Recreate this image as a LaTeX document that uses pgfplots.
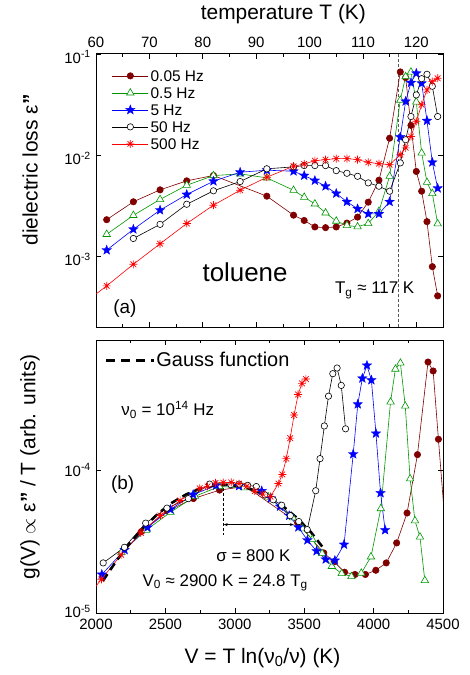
\documentclass[border=0pt]{standalone}
\usepackage{fontspec}
\setmainfont{Liberation Sans}
\usepackage{pgfplots}
\pgfplotsset{compat=1.18}
\usepackage{pgfplotstable}
\usetikzlibrary{arrows.meta}

\definecolor{c005}{RGB}{128,0,0}
\definecolor{c05}{RGB}{0,150,0}
\definecolor{c5}{RGB}{0,0,255}
\definecolor{c50}{RGB}{0,0,0}
\definecolor{c500}{RGB}{255,0,0}

% eight-armed asterisk
\pgfdeclareplotmark{ast8}{%
  \pgfpathmoveto{\pgfqpoint{0pt}{\pgfplotmarksize}}\pgfpathlineto{\pgfqpoint{0pt}{-\pgfplotmarksize}}%
  \pgfpathmoveto{\pgfqpoint{\pgfplotmarksize}{0pt}}\pgfpathlineto{\pgfqpoint{-\pgfplotmarksize}{0pt}}%
  \pgfpathmoveto{\pgfqpoint{.707\pgfplotmarksize}{.707\pgfplotmarksize}}\pgfpathlineto{\pgfqpoint{-.707\pgfplotmarksize}{-.707\pgfplotmarksize}}%
  \pgfpathmoveto{\pgfqpoint{.707\pgfplotmarksize}{-.707\pgfplotmarksize}}\pgfpathlineto{\pgfqpoint{-.707\pgfplotmarksize}{.707\pgfplotmarksize}}%
  \pgfusepathqstroke}

% filled five-pointed star
\pgfdeclareplotmark{pstar}{%
  \pgfpathmoveto{\pgfqpointpolar{90}{\pgfplotmarksize}}%
  \pgfpathlineto{\pgfqpointpolar{126}{.42\pgfplotmarksize}}%
  \pgfpathlineto{\pgfqpointpolar{162}{\pgfplotmarksize}}%
  \pgfpathlineto{\pgfqpointpolar{198}{.42\pgfplotmarksize}}%
  \pgfpathlineto{\pgfqpointpolar{234}{\pgfplotmarksize}}%
  \pgfpathlineto{\pgfqpointpolar{270}{.42\pgfplotmarksize}}%
  \pgfpathlineto{\pgfqpointpolar{306}{\pgfplotmarksize}}%
  \pgfpathlineto{\pgfqpointpolar{342}{.42\pgfplotmarksize}}%
  \pgfpathlineto{\pgfqpointpolar{18}{\pgfplotmarksize}}%
  \pgfpathlineto{\pgfqpointpolar{54}{.42\pgfplotmarksize}}%
  \pgfpathclose
  \pgfusepathqfillstroke}

% columns: T (K), eps'' , V = T ln(nu0/nu) (K), g(V)
\pgfplotstableread{
T eps V g
62 2.30e-3 2327 3.71e-5
67 3.46e-3 2515 5.16e-5
72 4.54e-3 2702 6.31e-5
77 5.57e-3 2890 7.23e-5
82 6.30e-3 3078 7.68e-5
92 3.93e-3 3453 4.27e-5
97 2.55e-3 3641 2.63e-5
99 2.26e-3 3716 2.28e-5
101 1.95e-3 3791 1.93e-5
103 1.92e-3 3866 1.86e-5
105 1.95e-3 3941 1.86e-5
107 2.13e-3 4016 1.99e-5
109 2.44e-3 4091 2.24e-5
111 3.43e-3 4166 3.09e-5
113 5.65e-3 4241 5.00e-5
115 1.47e-2 4316 1.28e-4
117 6.65e-2 4392 5.68e-4
118 5.85e-2 4429 4.92e-4
119 1.97e-2 4467 1.64e-4
120 6.90e-3 4504 5.75e-5
121 4.40e-3 4542 3.64e-5
122 2.20e-3 4579 1.80e-5
123 7.90e-4 4617 6.42e-6
124 4.06e-4 4654 3.27e-6
}\tA

\pgfplotstableread{
T eps V g
62 1.65e-3 2184 2.66e-5
67 2.54e-3 2361 3.79e-5
72 3.65e-3 2537 5.07e-5
77 5.04e-3 2713 6.55e-5
82 6.28e-3 2889 7.66e-5
87 6.53e-3 3065 7.51e-5
92 5.96e-3 3241 6.48e-5
97 4.50e-3 3418 4.64e-5
99 3.84e-3 3488 3.88e-5
101 3.30e-3 3558 3.27e-5
103 2.69e-3 3629 2.61e-5
105 2.23e-3 3699 2.12e-5
107 2.02e-3 3770 1.89e-5
109 1.96e-3 3840 1.80e-5
111 2.11e-3 3911 1.90e-5
113 2.79e-3 3981 2.47e-5
115 6.18e-3 4052 5.37e-5
117 3.50e-2 4122 2.99e-4
118 5.98e-2 4157 5.07e-4
119 6.65e-2 4193 5.59e-4
120 3.36e-2 4228 2.80e-4
121 1.05e-2 4263 8.68e-5
122 5.39e-3 4298 4.42e-5
123 4.18e-3 4334 3.40e-5
124 2.10e-3 4369 1.69e-5
}\tB

\pgfplotstableread{
T eps V g
62 1.15e-3 2042 1.86e-5
67 1.85e-3 2206 2.76e-5
72 2.86e-3 2371 3.97e-5
77 4.08e-3 2536 5.30e-5
82 5.52e-3 2700 6.73e-5
87 6.78e-3 2865 7.79e-5
92 7.10e-3 3030 7.72e-5
97 6.93e-3 3194 7.14e-5
99 6.28e-3 3260 6.34e-5
101 5.61e-3 3326 5.55e-5
103 4.93e-3 3392 4.79e-5
105 4.18e-3 3458 3.98e-5
107 3.46e-3 3523 3.23e-5
109 2.95e-3 3589 2.71e-5
111 2.63e-3 3655 2.37e-5
113 2.63e-3 3721 2.33e-5
115 3.46e-3 3787 3.01e-5
117 1.51e-2 3853 1.29e-4
118 3.40e-2 3886 2.88e-4
119 5.20e-2 3919 4.37e-4
120 6.45e-2 3952 5.38e-4
121 5.14e-2 3984 4.25e-4
122 2.19e-2 4017 1.80e-4
123 8.49e-3 4050 6.90e-5
124 4.71e-3 4083 3.80e-5
}\tC

\pgfplotstableread{
T eps V g
67 1.50e-3 2052 2.24e-5
72 2.07e-3 2205 2.88e-5
77 3.27e-3 2358 4.25e-5
82 4.44e-3 2511 5.41e-5
87 5.48e-3 2665 6.30e-5
92 7.33e-3 2818 7.97e-5
97 7.66e-3 2971 7.90e-5
99 7.89e-3 3032 7.97e-5
101 7.89e-3 3093 7.81e-5
103 7.89e-3 3155 7.66e-5
105 7.03e-3 3216 6.70e-5
107 6.62e-3 3277 6.19e-5
109 6.18e-3 3338 5.67e-5
111 5.32e-3 3400 4.79e-5
113 4.93e-3 3461 4.36e-5
115 4.40e-3 3522 3.83e-5
117 8.38e-3 3583 7.16e-5
118 1.42e-2 3614 1.20e-4
119 2.41e-2 3645 2.03e-4
120 3.94e-2 3675 3.28e-4
121 5.70e-2 3706 4.71e-4
122 6.30e-2 3737 5.16e-4
123 4.80e-2 3767 3.90e-4
124 2.41e-2 3798 1.94e-4
}\tD

\pgfplotstableread{
T eps V g
57 3.20e-4 1614 5.22e-6
62 5.10e-4 1756 7.65e-6
67 8.34e-4 1898 1.16e-5
72 1.33e-3 2039 1.72e-5
77 2.11e-3 2181 2.55e-5
82 3.20e-3 2323 3.63e-5
87 4.50e-3 2464 4.81e-5
92 6.05e-3 2606 6.12e-5
97 7.77e-3 2747 7.45e-5
99 8.18e-3 2804 7.68e-5
101 8.82e-3 2861 8.12e-5
103 9.03e-3 2917 8.15e-5
105 9.24e-3 2974 8.18e-5
107 9.24e-3 3031 8.03e-5
109 9.03e-3 3087 7.70e-5
111 8.49e-3 3144 7.11e-5
113 8.24e-3 3201 6.78e-5
115 8.05e-3 3257 6.51e-5
117 1.01e-2 3314 8.03e-5
118 1.18e-2 3342 9.30e-5
119 1.53e-2 3371 1.20e-4
120 2.16e-2 3399 1.67e-4
121 3.15e-2 3427 2.42e-4
122 4.42e-2 3456 3.37e-4
123 5.33e-2 3484 4.03e-4
124 5.76e-2 3512 4.32e-4
}\tE

% Gauss function
\pgfplotstableread{
V g
2050 1.68e-5
2150 2.34e-5
2250 3.13e-5
2350 4.03e-5
2450 4.98e-5
2550 5.92e-5
2650 6.75e-5
2750 7.40e-5
2850 7.80e-5
2950 7.89e-5
3050 7.68e-5
3150 7.17e-5
3250 6.44e-5
3350 5.55e-5
3450 4.60e-5
3550 3.66e-5
3650 2.75e-5
}\tG

\pgfplotsset{
  s005/.style={c005, line width=0.6bp, mark=*, mark size=3.2bp, mark options={solid, fill=c005}},
  s05/.style={c05, line width=0.6bp, mark=triangle*, mark size=4.3bp, mark options={solid, fill=white, draw=c05}},
  s5/.style={c5, line width=0.6bp, mark=pstar, mark size=5bp, mark options={solid, fill=c5, line width=0.3bp}},
  s50/.style={c50, line width=0.6bp, mark=*, mark size=3.2bp, mark options={solid, fill=white, draw=black}},
  s500/.style={c500, line width=0.6bp, mark=ast8, mark size=4bp, mark options={solid, line width=0.7bp}},
}

\begin{document}
\begin{tikzpicture}
\path[use as bounding box] (0,0) rectangle (470bp,675bp);

% (a) dielectric loss versus temperature
\begin{axis}[ymode=log, anchor=south west, at={(96bp,348bp)},
  scale only axis, width=347bp, height=273bp,
  yminorticks=false, minor x tick num=1,
  tick align=inside, major tick length=5bp, minor tick length=3bp,
  every tick/.style={black, line width=0.6bp},
  axis line style={line width=1bp},
  tick label style={font=\fontsize{15}{15}\selectfont, inner sep=1.5bp},
  label style={font=\fontsize{21}{21}\selectfont},
  xmin=60, xmax=125, ymin=2e-4, ymax=0.1,
  xtick={60,70,...,120},
  xticklabels={60,70,80,90,100,110,120},
  xticklabel pos=upper,
  xticklabel style={yshift=5bp},
  ytick={1e-3,1e-2,1e-1},
  yticklabels={10\textsuperscript{-3},10\textsuperscript{-2},10\textsuperscript{-1}},
  yticklabel style={yshift=-3bp, xshift=-3.5bp},
  xlabel={temperature T (K)},
  ylabel={dielectric loss ε\textbf{"}},
  xlabel style={at={(rel axis cs:0.54,1.145)}, anchor=center},
  ylabel style={at={(rel axis cs:-0.19,0.575)}, anchor=center},
  legend style={at={(0.037,0.948)}, anchor=north west, draw=none, fill=none,
    font=\fontsize{15.5}{15.5}\selectfont, row sep=6bp, column sep=0pt,
    nodes={inner sep=0pt, inner xsep=2bp, text height=11bp, text depth=0bp}},
  legend cell align=left,
  legend image code/.code={\draw[mark repeat=2,mark phase=2] plot coordinates {(0bp,0bp) (18bp,0bp) (36bp,0bp)};},
]
\addplot[forget plot, gray!70!black, line width=0.7bp, dash pattern=on 3bp off 2bp] coordinates {(116.6,2e-4) (116.6,0.1)};
\addplot[s005] table[x=T,y=eps] {\tA};
\addlegendentry{0.05 Hz}
\addplot[s05] table[x=T,y=eps] {\tB};
\addlegendentry{0.5 Hz}
\addplot[s5] table[x=T,y=eps] {\tC};
\addlegendentry{5 Hz}
\addplot[s50] table[x=T,y=eps] {\tD};
\addlegendentry{50 Hz}
\addplot[s500] table[x=T,y=eps] {\tE};
\addlegendentry{500 Hz}
\node[anchor=base west, font=\fontsize{26}{26}\selectfont] at (rel axis cs:0.297,0.168) {toluene};
\node[anchor=base west, font=\fontsize{19}{19}\selectfont] at (rel axis cs:0.04,0.05) {(a)};
\node[anchor=base west, font=\fontsize{17}{17}\selectfont] at (rel axis cs:0.679,0.121) {T\textsubscript{g} ≈ 117 K};
\end{axis}

% (b) distribution of activation energies
\begin{axis}[ymode=log, anchor=south west, at={(96bp,62bp)},
  scale only axis, width=347bp, height=273bp,
  yminorticks=false, minor x tick num=1,
  tick align=inside, major tick length=5bp, minor tick length=3bp,
  every tick/.style={black, line width=0.6bp},
  axis line style={line width=1bp},
  tick label style={font=\fontsize{15}{15}\selectfont, inner sep=1.5bp},
  label style={font=\fontsize{21}{21}\selectfont},
  xmin=2000, xmax=4500, ymin=1e-5, ymax=8.1e-4,
  xtick={2000,2500,...,4500},
  xticklabels={2000,2500,3000,3500,4000,4500},
  xticklabel style={yshift=-4.5bp},
  ytick={1e-5,1e-4},
  yticklabels={\raisebox{4bp}{10\textsuperscript{-5}},10\textsuperscript{-4}},
  yticklabel style={xshift=-3.5bp},
  xlabel={V = T ln(ν\textsubscript{0}/ν) (K)},
  ylabel={g(V) $\propto$ ε\textbf{"} / T (arb. units)},
  xlabel style={at={(rel axis cs:0.48,-0.165)}, anchor=center},
  ylabel style={at={(rel axis cs:-0.19,0.535)}, anchor=center},
  legend style={at={(0.025,0.955)}, anchor=north west, draw=none, fill=none,
    font=\fontsize{20}{20}\selectfont, inner sep=0pt,
    nodes={inner sep=0pt, inner xsep=1bp}},
  legend image code/.code={\draw[black, line width=2.6bp, dash pattern=on 9bp off 6bp] (0bp,0bp) -- (48bp,0bp);},
]
\addplot[s005, forget plot] table[x=V,y=g] {\tA};
\addplot[s05, forget plot] table[x=V,y=g] {\tB};
\addplot[s5, forget plot] table[x=V,y=g] {\tC};
\addplot[s50, forget plot] table[x=V,y=g] {\tD};
\addplot[s500, forget plot] table[x=V,y=g] {\tE};
\addplot[black, line width=2.6bp, dash pattern=on 8bp off 5bp, no marks] table[x=V,y=g] {\tG};
\addlegendentry{Gauss function}
\addplot[forget plot, black, line width=0.6bp, dash pattern=on 3bp off 2bp] coordinates {(2920,7.5e-5) (2920,3.5e-5)};
\draw[black, line width=0.6bp, {Stealth[length=4bp,width=3bp]}-{Stealth[length=4bp,width=3bp]}] (axis cs:2920,4.15e-5) -- (axis cs:3425,4.15e-5);
\node[anchor=west, font=\fontsize{17}{17}\selectfont] at (rel axis cs:0.063,0.744) {ν\textsubscript{0} = 10\textsuperscript{14} Hz};
\node[anchor=center, font=\fontsize{19}{19}\selectfont] at (rel axis cs:0.077,0.469) {(b)};
\node[anchor=west, font=\fontsize{17}{17}\selectfont] at (rel axis cs:0.337,0.209) {σ = 800 K};
\node[anchor=west, font=\fontsize{17}{17}\selectfont] at (rel axis cs:0.124,0.110) {V\textsubscript{0} ≈ 2900 K = 24.8 T\textsubscript{g}};
\end{axis}
\end{tikzpicture}
\end{document}
